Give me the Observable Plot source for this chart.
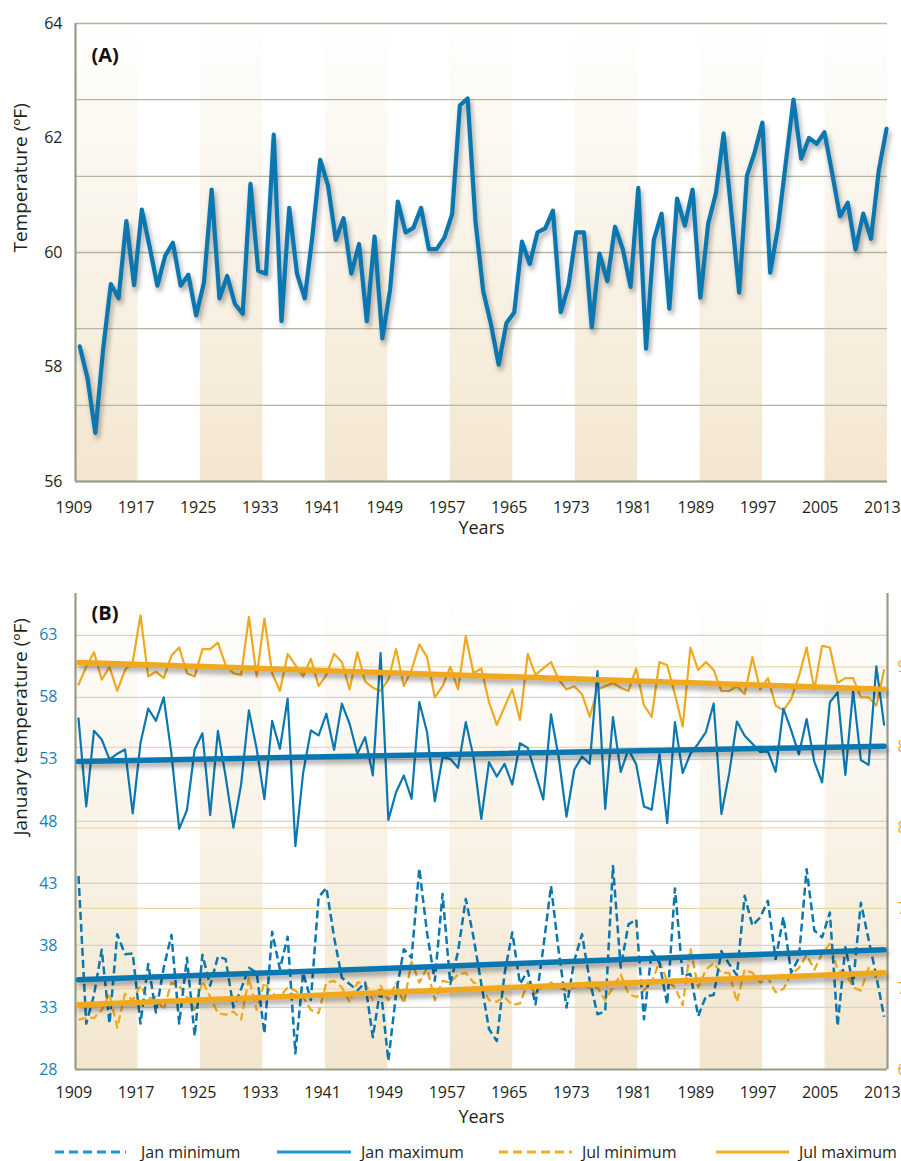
<!DOCTYPE html>
<html>
<head>
<meta charset="utf-8">
<script src="https://cdn.jsdelivr.net/npm/d3@7"></script>
<script src="https://cdn.jsdelivr.net/npm/@observablehq/plot@0.6"></script>
<style>
  body { margin: 0; background: #fff; font-family: "Open Sans", sans-serif; }
  #wrap { position: relative; width: 901px; height: 1161px; overflow: hidden; background: #fff; }
  #a { position: absolute; left: 0; top: 0; }
  #b { position: absolute; left: 0; top: 555px; }
  #legend { position: absolute; left: 0; top: 1140px; width: 901px; height: 24px; }
  g[aria-description="shadow"] { filter: drop-shadow(2px 4px 2.5px rgba(0,0,0,0.35)); }
</style>
</head>
<body>
<div id="wrap">
  <div id="a"></div>
  <div id="b"></div>
  <div id="legend"></div>
</div>
<script>
// ---------- data ----------
const firstYear = 1909;
const tickYears = [1909, 1917, 1925, 1933, 1941, 1949, 1957, 1965, 1973, 1981, 1989, 1997, 2005, 2013];
const bandStarts = [1909, 1925, 1941, 1957, 1973, 1989, 2005];

// Panel A: annual temperature (ºF), 1909–2013
const annualMean = [
  58.36, 57.8, 56.85, 58.3, 59.45, 59.2, 60.55, 59.43, 60.75, 60.1,
  59.42, 59.94, 60.17, 59.42, 59.61, 58.9, 59.47, 61.1, 59.2, 59.59,
  59.1, 58.93, 61.2, 59.68, 59.63, 62.06, 58.8, 60.78, 59.63, 59.2,
  60.3, 61.62, 61.17, 60.22, 60.6, 59.63, 60.15, 58.8, 60.28, 58.5,
  59.35, 60.89, 60.35, 60.43, 60.78, 60.06, 60.06, 60.26, 60.67, 62.57,
  62.69, 60.56, 59.33, 58.75, 58.04, 58.77, 58.95, 60.19, 59.8, 60.35,
  60.42, 60.73, 58.96, 59.42, 60.35, 60.35, 58.69, 59.98, 59.5, 60.45,
  60.06, 59.4, 61.13, 58.32, 60.22, 60.68, 59.02, 60.94, 60.47, 61.1,
  59.21, 60.5, 61.03, 62.08, 60.7, 59.3, 61.34, 61.75, 62.27, 59.65,
  60.43, 61.55, 62.67, 61.64, 62.0, 61.9, 62.1, 61.38, 60.63, 60.87,
  60.05, 60.68, 60.24, 61.43, 62.16
];
const ticksA = [56, 58, 60, 62, 64];
const gridA = [56, 57.33, 58.67, 60, 61.33, 62.67, 64];

// Panel B: January (left axis, ºF)
const janMax = [
  56.3, 49.2, 55.3, 54.6, 53.0, 53.45, 53.8, 48.65, 54.3, 57.1,
  56.1, 58.0, 53.45, 47.4, 48.9, 53.8, 55.1, 48.5, 55.3, 51.6,
  47.5, 51.0, 56.95, 53.85, 49.8, 56.1, 53.85, 57.9, 46.0, 51.9,
  55.33, 54.93, 56.68, 53.77, 57.49, 55.87, 53.45, 54.79, 51.7, 61.57,
  48.12, 50.35, 51.7, 49.82, 57.62, 55.19, 49.62, 53.18, 53.04, 52.32,
  56.0, 53.18, 48.2, 52.77, 51.62, 52.64, 50.97, 54.3, 53.93, 51.83,
  49.76, 56.62, 53.13, 48.39, 52.16, 53.23, 52.64, 60.12, 49.0, 56.4,
  52.0, 53.8, 52.6, 49.2, 48.95, 53.45, 47.85, 56.0, 51.9, 53.45,
  54.26, 55.2, 57.5, 48.6, 51.85, 56.05, 54.9, 54.25, 53.6, 53.65,
  52.0, 57.1, 55.35, 53.4, 56.25, 52.8, 51.15, 57.6, 58.4, 51.75,
  58.55, 52.95, 52.55, 60.5, 55.8
];
const janMin = [
  43.6, 31.7, 34.0, 37.65, 31.7, 38.9, 37.3, 37.35, 31.7, 36.5,
  32.6, 36.2, 38.85, 31.7, 37.0, 30.7, 37.25, 34.75, 37.1, 36.9,
  33.0, 34.5, 36.2, 35.8, 30.9, 39.1, 36.1, 38.7, 29.3, 35.8,
  33.6, 41.9, 42.65, 38.65, 35.4, 34.9, 34.35, 35.0, 30.6, 34.6,
  28.7, 34.1, 37.7, 37.0, 44.2, 39.0, 35.15, 42.15, 34.9, 37.5,
  41.75, 38.65, 34.9, 31.25, 30.3, 35.7, 39.05, 34.9, 35.95, 33.25,
  37.8, 42.8, 37.5, 33.0, 36.75, 38.9, 35.15, 32.45, 32.7, 44.4,
  36.2, 39.7, 40.1, 32.05, 37.55, 36.6, 33.25, 42.6, 35.55, 35.7,
  32.3, 33.9, 34.0, 37.55, 36.5, 35.6, 42.0, 39.6, 40.25, 41.6,
  36.9, 40.3, 35.8, 37.0, 44.15, 39.2, 38.65, 40.65, 31.5, 37.85,
  34.9, 41.45, 38.5, 35.5, 32.25
];
// Panel B: July (right axis, ºF)
const julMax = [
  88.9, 90.0, 90.9, 89.2, 90.0, 88.5, 89.8, 90.3, 93.2, 89.4,
  89.7, 89.3, 90.7, 91.2, 89.6, 89.4, 91.1, 91.1, 91.5, 90.1,
  89.6, 89.5, 93.1, 89.4, 93.0, 89.6, 88.5, 90.8, 90.1, 89.4,
  90.5, 88.8, 89.5, 90.8, 90.3, 88.6, 90.9, 89.1, 88.7, 88.5,
  89.2, 91.1, 88.8, 89.8, 91.4, 90.6, 88.1, 88.8, 90.0, 88.6,
  91.9, 89.6, 89.9, 87.8, 86.4, 87.5, 88.6, 86.7, 90.8, 89.5,
  89.9, 90.3, 89.2, 88.6, 88.8, 88.3, 86.9, 88.6, 88.8, 89.0,
  88.7, 88.5, 89.9, 87.6, 86.9, 90.3, 90.1, 88.3, 86.3, 91.2,
  89.8, 90.3, 89.8, 88.5, 88.5, 88.8, 88.3, 90.6, 88.6, 89.3,
  87.6, 87.3, 88.0, 89.4, 91.2, 88.6, 91.3, 91.2, 89.0, 89.3,
  89.3, 88.1, 88.1, 87.6, 89.8
];
const julMin = [
  68.1, 68.2, 68.2, 68.7, 69.7, 67.6, 69.7, 69.3, 70.2, 69.4,
  69.5, 68.7, 70.4, 70.2, 69.5, 68.7, 70.5, 69.5, 68.5, 68.4,
  68.6, 68.1, 70.7, 68.7, 70.4, 69.7, 69.5, 70.1, 69.9, 69.5,
  68.7, 68.5, 70.4, 70.5, 70.1, 69.2, 70.4, 70.4, 69.3, 70.2,
  69.3, 70.4, 69.1, 71.7, 70.4, 71.3, 69.3, 70.5, 70.4, 70.9,
  71.0, 70.4, 70.2, 69.3, 69.2, 69.5, 69.0, 69.1, 70.4, 69.7,
  70.2, 70.4, 70.1, 69.9, 70.1, 70.2, 70.1, 70.1, 69.3, 70.1,
  70.9, 69.7, 69.5, 69.9, 70.4, 71.7, 70.5, 70.1, 69.0, 72.5,
  70.1, 71.2, 71.6, 71.0, 71.0, 69.2, 71.2, 71.0, 70.4, 70.7,
  69.8, 70.0, 70.9, 71.3, 72.1, 71.2, 72.2, 72.8, 71.2, 71.0,
  70.1, 69.9, 71.3, 70.7, 71.0
];
// trend lines (start 1909, end 2013)
const trendIdx = [0, 104];
const janMaxTrend = [52.83, 54.06];
const janMinTrend = [35.23, 37.65];
const julMaxTrend = [90.27, 88.61];
const julMinTrend = [69.02, 71.01];

const janTicks = [28, 33, 38, 43, 48, 53, 58, 63];
const julTicks = [65, 70, 75, 80, 85, 90];

// ---------- layout helpers ----------
const BLUE = "#0a77b0", ORANGE = "#f0a81e", AXIS = "#979c86";
const pxPerYear = 812 / 104;                       // band spacing
const xA = i => firstYear + (4.3 + 7.757 * i) / pxPerYear;   // data positions panel A
const xB = i => firstYear + (3.0 + 7.746 * i) / pxPerYear;   // data positions panel B
const labelPos = y => firstYear + (-1.7 + 7.775 * (y - firstYear)) / pxPerYear; // tick label centres
const tickPos = tickYears.map(labelPos);
const tickFmt = d => String(tickYears[tickPos.indexOf(d)]);
const julToLeft = v => 28 + (v - 65) * (60.46 - 28) / (90 - 65);
const julPos = julTicks.map(julToLeft);

function gradientDefs(id) {
  return () => {
    const ns = "http://www.w3.org/2000/svg";
    const defs = document.createElementNS(ns, "defs");
    defs.innerHTML = `<linearGradient id="${id}" x1="0" y1="0" x2="0" y2="1">
      <stop offset="0" stop-color="#f3e8d2" stop-opacity="0"/>
      <stop offset="0.08" stop-color="#f3e8d2" stop-opacity="0.12"/>
      <stop offset="1" stop-color="#f3e6cf" stop-opacity="1"/>
    </linearGradient>`;
    return defs;
  };
}
const baseStyle = {fontFamily: "'Open Sans', sans-serif", fontSize: "16px", color: "#231f20", background: "transparent", overflow: "hidden"};

// ---------- Panel A ----------
const rowsA = annualMean.map((v, i) => ({x: xA(i), v}));
const plotA = Plot.plot({
  width: 901, height: 555,
  marginLeft: 75, marginRight: 14, marginTop: 23, marginBottom: 74,
  style: baseStyle,
  x: {domain: [1909, 2013], axis: null},
  y: {domain: [56, 64], axis: null},
  marks: [
    gradientDefs("gradA"),
    Plot.rect(bandStarts, {x1: d => d, x2: d => d + 8, y1: 56, y2: 64, fill: "url(#gradA)"}),
    Plot.ruleY(gridA, {stroke: "#b3b8a3", strokeWidth: 1.3}),
    Plot.ruleY([56], {stroke: AXIS, strokeWidth: 2.2}),
    Plot.ruleX([1909], {stroke: AXIS, strokeWidth: 2.2}),
    Plot.axisX({ticks: tickPos, tickSize: 0, tickPadding: 20, tickFormat: tickFmt, label: null, fill: "#231f20"}),
    Plot.axisY({ticks: ticksA, tickSize: 0, tickPadding: 13, tickFormat: d => String(d), label: null, fill: "#231f20"}),
    Plot.line(rowsA, {x: "x", y: "v", stroke: BLUE, strokeWidth: 4.2, ariaDescription: "shadow"}),
    Plot.text(["(A)"], {text: d => d, frameAnchor: "top-left", dx: 16, dy: 24, textAnchor: "start", fontWeight: "bold", fontSize: 20, fill: "#111"}),
    Plot.text(["Temperature (ºF)"], {text: d => d, frameAnchor: "left", dx: -55, rotate: -90, fontSize: 19, fill: "#231f20"}),
    Plot.text(["Years"], {text: d => d, frameAnchor: "bottom", dy: 52, fontSize: 18, fill: "#231f20"})
  ]
});
document.getElementById("a").appendChild(plotA);

// ---------- Panel B ----------
const rowsB = (arr, conv) => arr.map((v, i) => ({x: xB(i), v: conv ? conv(v) : v}));
const trendRows = (arr, conv) => arr.map((v, k) => ({x: xB(trendIdx[k]), v: conv ? conv(v) : v}));
const plotB = Plot.plot({
  width: 901, height: 585,
  marginLeft: 75, marginRight: 14, marginTop: 38, marginBottom: 71,
  style: baseStyle,
  x: {domain: [1909, 2013], axis: null},
  y: {domain: [28, 66.37], axis: null},
  marks: [
    gradientDefs("gradB"),
    Plot.rect(bandStarts, {x1: d => d, x2: d => d + 8, y1: 28, y2: 66.37, fill: "url(#gradB)"}),
    Plot.ruleY(janTicks.slice(1), {stroke: "#d4d4cc", strokeWidth: 1.2}),
    Plot.ruleY(julPos.slice(1), {stroke: "#efd7a8", strokeWidth: 1.2}),
    Plot.ruleY([28], {stroke: AXIS, strokeWidth: 2.2}),
    Plot.ruleX([1909, 2013], {stroke: AXIS, strokeWidth: 2.2}),
    Plot.axisX({ticks: tickPos, tickSize: 0, tickPadding: 17, tickFormat: tickFmt, label: null, fill: "#231f20"}),
    Plot.axisY({ticks: janTicks, tickSize: 0, tickPadding: 18, tickFormat: d => String(d), label: null, fill: "#1a80b8"}),
    Plot.axisY({anchor: "right", ticks: julPos, tickSize: 0, tickPadding: 10, tickFormat: d => String(julTicks[julPos.indexOf(d)]), label: null, fill: "#eca52a"}),
    Plot.line(rowsB(julMin, julToLeft), {x: "x", y: "v", stroke: ORANGE, strokeWidth: 2.3, strokeDasharray: "8,4", strokeLinecap: "butt"}),
    Plot.line(rowsB(janMin), {x: "x", y: "v", stroke: BLUE, strokeWidth: 2.5, strokeDasharray: "8,4", strokeLinecap: "butt"}),
    Plot.line(rowsB(julMax, julToLeft), {x: "x", y: "v", stroke: ORANGE, strokeWidth: 2.2}),
    Plot.line(rowsB(janMax), {x: "x", y: "v", stroke: BLUE, strokeWidth: 2.2}),
    Plot.line(trendRows(julMaxTrend, julToLeft), {x: "x", y: "v", stroke: ORANGE, strokeWidth: 5.5, ariaDescription: "shadow"}),
    Plot.line(trendRows(janMaxTrend), {x: "x", y: "v", stroke: BLUE, strokeWidth: 5.5, ariaDescription: "shadow"}),
    Plot.line(trendRows(janMinTrend), {x: "x", y: "v", stroke: BLUE, strokeWidth: 5.5, ariaDescription: "shadow"}),
    Plot.line(trendRows(julMinTrend, julToLeft), {x: "x", y: "v", stroke: ORANGE, strokeWidth: 5.5, ariaDescription: "shadow"}),
    Plot.text(["(B)"], {text: d => d, frameAnchor: "top-left", dx: 16, dy: 12, textAnchor: "start", fontWeight: "bold", fontSize: 20, fill: "#111"}),
    Plot.text(["January temperature (ºF)"], {text: d => d, frameAnchor: "left", dx: -55, dy: 4, rotate: -90, fontSize: 19, fill: "#231f20"}),
    Plot.text(["Years"], {text: d => d, frameAnchor: "bottom", dy: 53, fontSize: 18, fill: "#231f20"})
  ]
});
document.getElementById("b").appendChild(plotB);

// ---------- Legend ----------
const legendItems = [
  {label: "Jan minimum", color: "#2196d3", dash: "9,5", x0: 55, x1: 126, tx: 141},
  {label: "Jan maximum", color: "#2196d3", dash: null, x0: 277, x1: 351, tx: 361},
  {label: "Jul minimum", color: "#f4ae22", dash: "9,5", x0: 499, x1: 572, tx: 582},
  {label: "Jul maximum", color: "#f4ae22", dash: null, x0: 716, x1: 789, tx: 799}
];
const lg = d3.select("#legend").append("svg").attr("width", 901).attr("height", 24)
  .style("font-family", "'Open Sans', sans-serif").style("font-size", "16px");
legendItems.forEach(it => {
  lg.append("line").attr("x1", it.x0).attr("x2", it.x1).attr("y1", 12).attr("y2", 12)
    .attr("stroke", it.color).attr("stroke-width", 3)
    .attr("stroke-dasharray", it.dash);
  lg.append("text").attr("x", it.tx).attr("y", 12).attr("dy", "0.35em")
    .attr("fill", "#231f20").text(it.label);
});
</script>
</body>
</html>
